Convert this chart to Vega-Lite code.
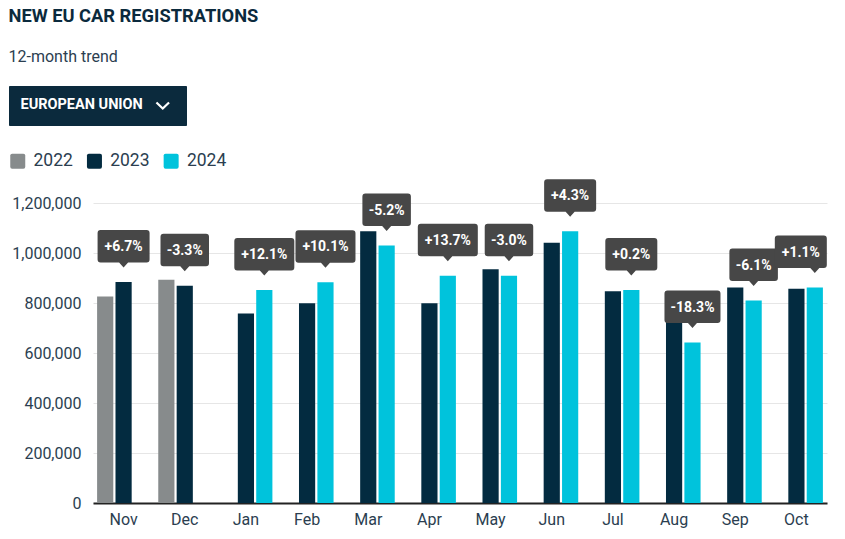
{
  "$schema": "https://vega.github.io/schema/vega-lite/v6.json",
  "background": "white",
  "padding": {"left": 8, "top": 6, "right": 19, "bottom": 5},
  "title": {
    "text": "NEW EU CAR REGISTRATIONS",
    "subtitle": "12-month trend",
    "anchor": "start",
    "font": "Roboto",
    "fontSize": 18.3,
    "fontWeight": "bold",
    "color": "#0b2a3d",
    "subtitleFont": "Roboto",
    "subtitleFontSize": 16,
    "subtitleColor": "#2b3e50",
    "subtitlePadding": 23.5,
    "offset": 19
  },
  "datasets": {
    "bars": [
      {"month": "Nov", "year": "2022", "value": 826000, "change": null},
      {"month": "Nov", "year": "2023", "value": 884000, "change": "+6.7%"},
      {"month": "Dec", "year": "2022", "value": 893000, "change": null},
      {"month": "Dec", "year": "2023", "value": 869000, "change": "-3.3%"},
      {"month": "Jan", "year": "2023", "value": 758000, "change": null},
      {"month": "Jan", "year": "2024", "value": 852000, "change": "+12.1%"},
      {"month": "Feb", "year": "2023", "value": 799000, "change": null},
      {"month": "Feb", "year": "2024", "value": 883000, "change": "+10.1%"},
      {"month": "Mar", "year": "2023", "value": 1087000, "change": null},
      {"month": "Mar", "year": "2024", "value": 1030000, "change": "-5.2%"},
      {"month": "Apr", "year": "2023", "value": 799000, "change": null},
      {"month": "Apr", "year": "2024", "value": 909000, "change": "+13.7%"},
      {"month": "May", "year": "2023", "value": 935000, "change": null},
      {"month": "May", "year": "2024", "value": 909000, "change": "-3.0%"},
      {"month": "Jun", "year": "2023", "value": 1041000, "change": null},
      {"month": "Jun", "year": "2024", "value": 1087000, "change": "+4.3%"},
      {"month": "Jul", "year": "2023", "value": 847000, "change": null},
      {"month": "Jul", "year": "2024", "value": 852000, "change": "+0.2%"},
      {"month": "Aug", "year": "2023", "value": 784000, "change": null},
      {"month": "Aug", "year": "2024", "value": 642000, "change": "-18.3%"},
      {"month": "Sep", "year": "2023", "value": 862000, "change": null},
      {"month": "Sep", "year": "2024", "value": 810000, "change": "-6.1%"},
      {"month": "Oct", "year": "2023", "value": 857000, "change": null},
      {"month": "Oct", "year": "2024", "value": 862000, "change": "+1.1%"}
    ],
    "selector": [{"region": "EUROPEAN UNION"}]
  },
  "width": 734,
  "height": 300,
  "layer": [
    {
      "data": {"name": "bars"},
      "encoding": {
        "x": {
          "field": "month",
          "type": "nominal",
          "sort": ["Nov", "Dec", "Jan", "Feb", "Mar", "Apr", "May", "Jun", "Jul", "Aug", "Sep", "Oct"],
          "scale": {"paddingInner": 0.134, "paddingOuter": 0.067},
          "axis": {
            "title": null,
            "labelAngle": 0,
            "labelFont": "Roboto",
            "labelFontSize": 16,
            "labelColor": "#2b3e50",
            "labelPadding": 8,
            "ticks": false,
            "domain": true,
            "domainColor": "#222222",
            "domainWidth": 2,
            "grid": false
          }
        },
        "y": {
          "field": "value",
          "type": "quantitative",
          "scale": {"domain": [0, 1200000], "nice": false},
          "axis": {
            "title": null,
            "values": [0, 200000, 400000, 600000, 800000, 1000000, 1200000],
            "format": ",d",
            "labelFont": "Roboto",
            "labelFontSize": 16,
            "labelColor": "#2b3e50",
            "labelPadding": 12,
            "ticks": false,
            "domain": false,
            "grid": true,
            "gridColor": "#e6e6e6",
            "gridWidth": 1
          }
        }
      },
      "layer": [
        {
          "mark": {"type": "bar"},
          "encoding": {
            "xOffset": {"field": "year", "type": "nominal", "scale": {"domain": ["2022", "2023", "2024"], "paddingInner": 0.12, "paddingOuter": 0}},
            "color": {
              "field": "year",
              "type": "nominal",
              "scale": {"domain": ["2022", "2023", "2024"], "range": ["#878b8c", "#032b40", "#00c3dc"]},
              "legend": {
                "title": null,
                "orient": "none",
                "legendX": -84,
                "legendY": -51,
                "direction": "horizontal",
                "symbolType": "M-0.75,-1L0.75,-1Q1,-1 1,-0.75L1,0.75Q1,1 0.75,1L-0.75,1Q-1,1 -1,0.75L-1,-0.75Q-1,-1 -0.75,-1Z",
                "symbolSize": 225,
                "symbolStrokeWidth": 0,
                "labelFont": "Roboto",
                "labelFontSize": 17.5,
                "labelColor": "#2b3e50",
                "labelOffset": 7,
                "columnPadding": 12.7
              }
            }
          }
        },
        {
          "transform": [{"filter": "datum.change != null && datum.month != 'Oct'"}],
          "mark": {"type": "point", "filled": true, "size": 4, "opacity": 1, "color": "#474747", "strokeWidth": 0},
          "encoding": {
            "xOffset": {"field": "year", "type": "nominal"},
            "shape": {
              "condition": [
                {"test": "length(datum.change) > 5 && indexof(datum.change, '+') == 0", "value": "M-27,-52L27,-52Q30,-52 30,-49L30,-22.5Q30,-19.5 27,-19.5L4.5,-19.5L0,-14.5L-4.5,-19.5L-27,-19.5Q-30,-19.5 -30,-22.5L-30,-49Q-30,-52 -27,-52Z"},
                {"test": "length(datum.change) > 5", "value": "M-25,-52L25,-52Q28,-52 28,-49L28,-22.5Q28,-19.5 25,-19.5L4.5,-19.5L0,-14.5L-4.5,-19.5L-25,-19.5Q-28,-19.5 -28,-22.5L-28,-49Q-28,-52 -25,-52Z"},
                {"test": "indexof(datum.change, '+') == 0", "value": "M-23,-52L23,-52Q26,-52 26,-49L26,-22.5Q26,-19.5 23,-19.5L4.5,-19.5L0,-14.5L-4.5,-19.5L-23,-19.5Q-26,-19.5 -26,-22.5L-26,-49Q-26,-52 -23,-52Z"}
              ],
              "value": "M-21.25,-52L21.25,-52Q24.25,-52 24.25,-49L24.25,-22.5Q24.25,-19.5 21.25,-19.5L4.5,-19.5L0,-14.5L-4.5,-19.5L-21.25,-19.5Q-24.25,-19.5 -24.25,-22.5L-24.25,-49Q-24.25,-52 -21.25,-52Z"
            }
          }
        },
        {
          "transform": [{"filter": "datum.change != null && datum.month != 'Oct'"}],
          "mark": {"type": "text", "color": "white", "font": "Roboto", "fontWeight": "bold", "fontSize": 14, "align": "center", "baseline": "middle", "dy": -35},
          "encoding": {
            "xOffset": {"field": "year", "type": "nominal"},
            "text": {"field": "change", "type": "nominal"}
          }
        },
        {
          "transform": [{"filter": "datum.change != null && datum.month == 'Oct'"}],
          "mark": {"type": "point", "filled": true, "size": 4, "opacity": 1, "color": "#474747", "strokeWidth": 0, "shape": "M-37,-52L9,-52Q12,-52 12,-49L12,-22.5Q12,-19.5 9,-19.5L4.5,-19.5L0,-14.5L-4.5,-19.5L-37,-19.5Q-40,-19.5 -40,-22.5L-40,-49Q-40,-52 -37,-52Z"},
          "encoding": {
            "xOffset": {"field": "year", "type": "nominal"}
          }
        },
        {
          "transform": [{"filter": "datum.change != null && datum.month == 'Oct'"}],
          "mark": {"type": "text", "color": "white", "font": "Roboto", "fontWeight": "bold", "fontSize": 14, "align": "center", "baseline": "middle", "dy": -35, "dx": -14},
          "encoding": {
            "xOffset": {"field": "year", "type": "nominal"},
            "text": {"field": "change", "type": "nominal"}
          }
        }
      ]
    },
    {
      "data": {"name": "selector"},
      "mark": {"type": "point", "filled": false, "color": "white", "opacity": 0},
      "encoding": {
        "shape": {
          "field": "region",
          "type": "nominal",
          "scale": {"range": ["M128.2,-2.8L134.5,3.2L140.8,-2.8M141,0"]},
          "legend": {
            "title": null,
            "orient": "none",
            "legendX": -84,
            "legendY": -117,
            "fillColor": "#0b2a3d",
            "strokeColor": "#0b2a3d",
            "cornerRadius": 0,
            "padding": 12,
            "symbolSize": 4,
            "symbolStrokeColor": "white",
            "symbolFillColor": "transparent",
            "symbolStrokeWidth": 2.2,
            "symbolOpacity": 1,
            "labelOffset": -15,
            "labelFont": "Roboto",
            "labelFontWeight": "bold",
            "labelFontSize": 14.5,
            "labelColor": "white",
            "labelLimit": 300
          }
        }
      }
    }
  ],
  "config": {
    "font": "Roboto",
    "view": {"stroke": null}
  }
}
